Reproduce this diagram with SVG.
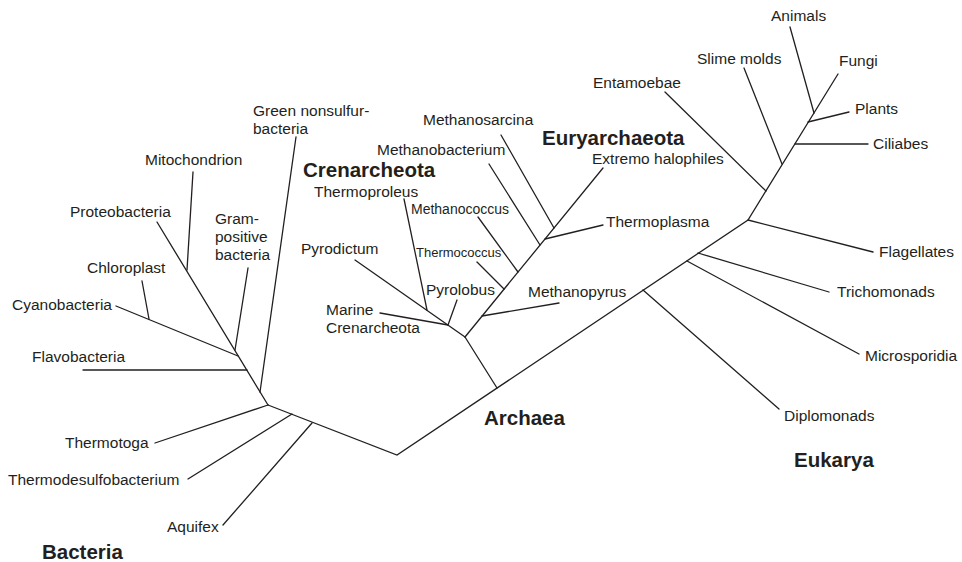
<svg xmlns="http://www.w3.org/2000/svg" width="962" height="562" viewBox="0 0 962 562">
<style>
text{font-family:"Liberation Sans",Arial,Helvetica,sans-serif;fill:#231f20;font-size:15.5px}
.sm{font-size:14px}
.xs{font-size:13px}
.b{font-weight:bold;font-size:20.5px}
#edges line,#edges polyline{stroke:#231f20;stroke-width:1.3;fill:none;stroke-linecap:round}
</style>
<rect width="962" height="562" fill="#ffffff"/>
<g id="edges">
<line x1="296" y1="137" x2="260" y2="392"/>
<line x1="157" y1="222" x2="268" y2="405"/>
<line x1="193" y1="172" x2="187" y2="270"/>
<line x1="248" y1="268" x2="235" y2="350"/>
<line x1="116" y1="306" x2="238" y2="356"/>
<line x1="142" y1="281" x2="149" y2="319"/>
<line x1="83" y1="370" x2="247" y2="370"/>
<line x1="155" y1="443" x2="268" y2="405"/>
<line x1="188" y1="479" x2="292" y2="414"/>
<line x1="223" y1="525" x2="312" y2="423"/>
<polyline points="268,405 397,455 748,220 838,74"/>
<line x1="497" y1="388" x2="465" y2="337"/>
<line x1="355" y1="260" x2="465" y2="337"/>
<line x1="404" y1="199" x2="427" y2="310"/>
<line x1="380" y1="313" x2="448" y2="325"/>
<line x1="457" y1="300" x2="448" y2="325"/>
<line x1="465" y1="337" x2="603" y2="168"/>
<line x1="559" y1="303" x2="482" y2="316"/>
<line x1="477" y1="262" x2="504" y2="289"/>
<line x1="478" y1="217" x2="518" y2="272"/>
<line x1="489" y1="164" x2="540" y2="245"/>
<line x1="603" y1="225" x2="545" y2="239"/>
<line x1="501" y1="135" x2="554" y2="228"/>
<line x1="665" y1="92" x2="766" y2="191"/>
<line x1="744" y1="68" x2="782" y2="164"/>
<line x1="795" y1="144" x2="868" y2="144"/>
<line x1="849" y1="112" x2="808" y2="122"/>
<line x1="790" y1="27" x2="814" y2="113"/>
<line x1="748" y1="220" x2="873" y2="252"/>
<line x1="698" y1="253" x2="829" y2="292"/>
<line x1="687" y1="261" x2="859" y2="354"/>
<line x1="643" y1="290" x2="779" y2="409"/>
</g>
<g id="group-bacteria"><text class="b" x="42" y="559">Bacteria</text></g>
<g id="group-archaea"><text class="b" x="484" y="425">Archaea</text></g>
<g id="group-eukarya"><text class="b" x="794" y="467">Eukarya</text></g>
<g id="group-crenarcheota"><text class="b" x="303" y="177">Crenarcheota</text></g>
<g id="group-euryarchaeota"><text class="b" x="542" y="145">Euryarchaeota</text></g>
<g id="green-nonsulfur"><text x="253" y="116">Green nonsulfur-</text><text x="253" y="134">bacteria</text></g>
<g id="mitochondrion"><text x="145" y="165">Mitochondrion</text></g>
<g id="proteobacteria"><text x="70" y="217">Proteobacteria</text></g>
<g id="gram-positive"><text x="215" y="224">Gram-</text><text x="215" y="242">positive</text><text x="215" y="260">bacteria</text></g>
<g id="chloroplast"><text x="87" y="273">Chloroplast</text></g>
<g id="cyanobacteria"><text x="12" y="310">Cyanobacteria</text></g>
<g id="flavobacteria"><text x="32" y="362">Flavobacteria</text></g>
<g id="thermotoga"><text x="65" y="448">Thermotoga</text></g>
<g id="thermodesulfobacterium"><text x="8" y="485">Thermodesulfobacterium</text></g>
<g id="aquifex"><text x="167" y="532">Aquifex</text></g>
<g id="thermoproleus"><text x="314" y="197">Thermoproleus</text></g>
<g id="pyrodictum"><text x="301" y="254">Pyrodictum</text></g>
<g id="marine-crenarcheota"><text x="326" y="315">Marine</text><text x="326" y="333">Crenarcheota</text></g>
<g id="pyrolobus"><text x="426" y="295">Pyrolobus</text></g>
<g id="methanopyrus"><text x="528" y="297">Methanopyrus</text></g>
<g id="thermococcus"><text class="xs" x="416" y="257">Thermococcus</text></g>
<g id="methanococcus"><text class="sm" x="411" y="214">Methanococcus</text></g>
<g id="methanobacterium"><text x="377" y="155">Methanobacterium</text></g>
<g id="methanosarcina"><text x="423" y="125">Methanosarcina</text></g>
<g id="extremo-halophiles"><text x="592" y="164">Extremo halophiles</text></g>
<g id="thermoplasma"><text x="606" y="227">Thermoplasma</text></g>
<g id="entamoebae"><text x="593" y="88">Entamoebae</text></g>
<g id="slime-molds"><text x="697" y="64">Slime molds</text></g>
<g id="animals"><text x="771" y="21">Animals</text></g>
<g id="fungi"><text x="839" y="66">Fungi</text></g>
<g id="plants"><text x="855" y="114">Plants</text></g>
<g id="ciliabes"><text x="873" y="149">Ciliabes</text></g>
<g id="flagellates"><text x="879" y="257">Flagellates</text></g>
<g id="trichomonads"><text x="837" y="297">Trichomonads</text></g>
<g id="microsporidia"><text x="865" y="361">Microsporidia</text></g>
<g id="diplomonads"><text x="784" y="421">Diplomonads</text></g>
</svg>
